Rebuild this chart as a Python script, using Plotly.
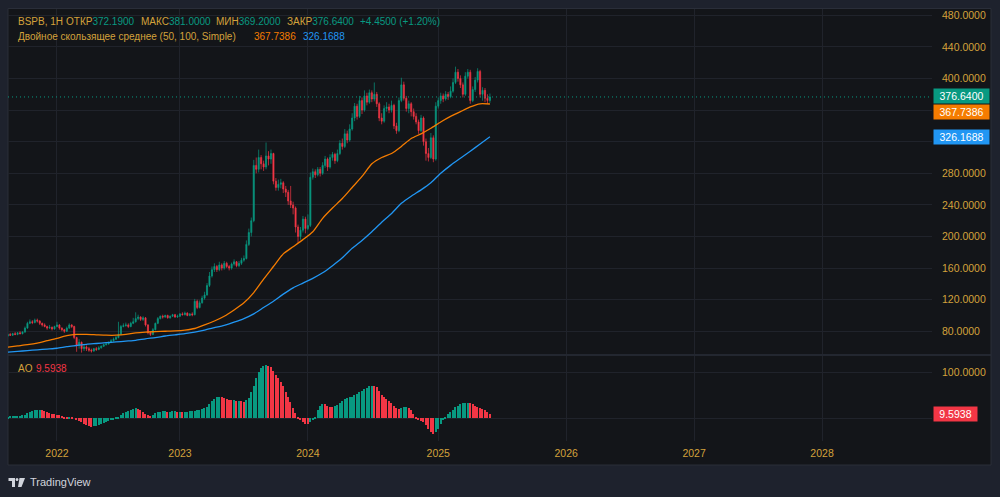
import plotly.graph_objects as go
import pandas as pd

# ---------------- data (weekly bars) ----------------
# trading weeks; the exchange was closed for two weeks in March 2022
first_week = "2021-08-16"
last_week = "2025-06-02"
closed_weeks = ["2022-03-07", "2022-03-14"]

opens = [
    74, 76, 75, 77, 76, 78, 77, 79, 84, 90,
    92, 91, 94, 93, 90, 88, 86, 84, 85, 83,
    86, 88, 84, 82, 80, 84, 88, 86, 72, 62,
    66, 58, 60, 58, 56, 55, 58, 57, 59, 61,
    63, 64, 66, 68, 70, 72, 76, 86, 87, 88,
    86, 90, 92, 96, 98, 95, 97, 88, 78, 76,
    82, 90, 96, 99, 98, 100, 97, 99, 101, 98,
    99, 102, 101, 103, 100, 102, 101, 118, 110, 116,
    122, 126, 138, 150, 158, 162, 158, 164, 160, 166,
    162, 160, 165, 168, 163, 166, 170, 172, 190, 205,
    220, 290, 285, 300, 292, 288, 302, 298, 305, 270,
    262, 266, 268, 260, 256, 245, 240, 236, 212, 200,
    208, 222, 210, 214, 275, 282, 278, 285, 280, 290,
    298, 288, 300, 304, 296, 305, 318, 314, 330, 322,
    336, 350, 365, 352, 372, 360, 378, 370, 382, 374,
    380, 368, 350, 346, 362, 364, 360, 366, 340, 334,
    372, 392, 375, 362, 368, 358, 352, 345, 334, 350,
    320, 305, 300, 325, 298, 365, 372, 378, 374, 380,
    377, 384, 395, 408, 400, 392, 380, 403, 408, 372,
    386, 398, 409, 380, 385, 375, 372.19,
]
highs = [
    77, 78, 78, 79, 79, 80, 80, 86, 92, 95,
    94, 96, 96, 94, 91, 90, 87, 88, 86, 87,
    92, 89, 85, 83, 86, 90, 89, 87, 73, 70,
    67, 63, 62, 60, 58, 59, 60, 61, 62, 64,
    66, 67, 70, 72, 74, 92, 88, 90, 91, 90,
    92, 97, 104, 101, 99, 99, 98, 89, 80, 84,
    91, 98, 100, 101, 101, 101, 100, 102, 102, 101,
    103, 104, 105, 104, 103, 104, 121, 120, 119, 125,
    130, 141, 155, 162, 166, 164, 168, 166, 169, 168,
    164, 167, 171, 169, 169, 173, 176, 195, 210, 224,
    297, 300, 310, 303, 296, 319, 308, 310, 306, 274,
    272, 273, 270, 264, 259, 264, 244, 238, 215, 212,
    226, 225, 228, 281, 286, 285, 288, 288, 294, 302,
    300, 304, 307, 306, 310, 322, 324, 336, 334, 342,
    356, 369, 368, 378, 376, 385, 382, 386, 385, 395,
    383, 370, 356, 366, 370, 368, 372, 368, 344, 376,
    401, 396, 378, 372, 370, 362, 356, 348, 354, 352,
    324, 312, 331, 328, 370, 376, 382, 381, 384, 383,
    390, 400, 415, 412, 404, 395, 408, 412, 411, 390,
    402, 413, 411, 389, 388, 380, 381,
]
lows = [
    73, 74, 74, 75, 75, 76, 76, 78, 83, 89,
    89, 90, 91, 88, 86, 85, 82, 83, 81, 82,
    85, 82, 80, 78, 79, 83, 84, 70, 54, 58,
    53, 55, 55, 54, 53, 54, 55, 56, 58, 60,
    62, 63, 65, 67, 69, 71, 75, 85, 86, 84,
    85, 89, 91, 94, 93, 93, 86, 76, 74, 75,
    81, 89, 95, 96, 97, 96, 96, 98, 97, 97,
    98, 100, 100, 99, 99, 99, 100, 108, 109, 115,
    120, 125, 136, 148, 155, 155, 156, 157, 158, 160,
    157, 158, 163, 161, 161, 164, 168, 171, 188, 200,
    218, 280, 281, 285, 283, 285, 290, 292, 266, 258,
    258, 261, 255, 250, 240, 236, 228, 205, 192, 196,
    205, 204, 208, 212, 272, 274, 276, 276, 278, 287,
    283, 286, 296, 292, 294, 303, 310, 312, 318, 320,
    334, 346, 348, 350, 355, 358, 366, 368, 370, 371,
    364, 346, 342, 344, 358, 356, 357, 336, 330, 332,
    370, 372, 358, 356, 352, 348, 342, 330, 332, 315,
    296, 295, 298, 294, 296, 362, 368, 370, 372, 373,
    375, 382, 393, 396, 388, 376, 378, 400, 368, 370,
    383, 395, 376, 372, 370, 368, 369.2,
]
closes = [
    76, 75, 77, 76, 78, 77, 79, 84, 90, 92,
    91, 94, 93, 90, 88, 86, 84, 85, 83, 86,
    88, 84, 82, 80, 84, 88, 86, 72, 62, 66,
    58, 60, 58, 56, 55, 58, 57, 59, 61, 63,
    64, 66, 68, 70, 72, 76, 86, 87, 88, 86,
    90, 92, 96, 98, 95, 97, 88, 78, 76, 82,
    90, 96, 99, 98, 100, 97, 99, 101, 98, 99,
    102, 101, 103, 100, 102, 101, 118, 110, 116, 122,
    126, 138, 150, 158, 162, 158, 164, 160, 166, 162,
    160, 165, 168, 163, 166, 170, 172, 190, 205, 220,
    290, 285, 300, 292, 288, 302, 298, 305, 270, 262,
    266, 268, 260, 256, 245, 240, 236, 212, 200, 208,
    222, 210, 214, 275, 282, 278, 285, 280, 290, 298,
    288, 300, 304, 296, 305, 318, 314, 330, 322, 336,
    350, 365, 352, 372, 360, 378, 370, 382, 374, 380,
    368, 350, 346, 362, 364, 360, 366, 340, 334, 372,
    392, 375, 362, 368, 358, 352, 345, 334, 350, 320,
    305, 300, 325, 298, 365, 372, 378, 374, 380, 377,
    384, 395, 408, 400, 392, 380, 403, 408, 372, 386,
    398, 409, 380, 385, 375, 372.19, 376.64,
]

# moving averages, sampled every 4th bar
ma50 = [
    60, 61.5, 63, 65, 68, 71, 74.5, 76, 76, 75.5,
    75, 75, 76, 78, 79, 79.5, 80, 80.5, 81.5, 83.5,
    88, 93, 99, 107, 116, 129, 146, 162, 178, 187,
    196, 206, 223, 236, 248, 262, 276, 292, 300, 305,
    314, 324, 330, 337, 345, 352, 358, 364, 368, 367.7386,
]
ma100 = [
    53.5, 54.5, 55.5, 56.5, 57.5, 58.5, 60.5, 62, 63.5, 64.5,
    65.5, 66.5, 67.5, 68.5, 70.5, 72, 74, 75.5, 77, 79,
    81.5, 84.5, 87.5, 91.5, 96, 102, 110, 118, 127, 135,
    141, 147, 154, 163, 173, 185, 195, 206, 218, 229,
    242, 251, 259, 268, 280, 290, 299, 308, 317, 326.1688,
]

ao = [
    4, 5, 5, 6, 6, 6, 7, 8, 11, 14,
    16, 18, 19, 19, 18, 16, 14, 12, 10, 9,
    8, 7, 6, 4, 3, 3, 2, 0, -2, -5,
    -9, -12, -15, -17, -18, -17, -16, -14, -12, -10,
    -8, -6, -4, -2, 1, 4, 8, 12, 15, 17,
    19, 21, 22, 21, 18, 14, 10, 7, 6, 8,
    12, 14, 15, 16, 16, 15, 15, 16, 16, 15,
    15, 14, 14, 15, 16, 16, 17, 18, 19, 20,
    22, 26, 32, 38, 43, 47, 48, 47, 45, 43,
    41, 40, 40, 39, 39, 38, 37, 40, 45, 58,
    72, 88, 102, 110, 115, 117, 115, 112, 104, 96,
    88, 80, 70, 59, 47, 35, 22, 12, 3, -4,
    -9, -12, -13, -8, -2, 4, 18, 28, 32, 31,
    28, 26, 25, 27, 30, 34, 38, 42, 44, 46,
    48, 51, 54, 58, 61, 64, 67, 70, 72, 71,
    68, 60, 52, 46, 42, 38, 34, 28, 22, 20,
    23, 24, 24, 22, 18, 10, 4, -3, -5, -9,
    -15, -24, -31, -35, -31, -24, -13, -3, 3, 9,
    14, 19, 25, 27, 32, 34, 34.5, 34.8, 34, 31,
    28, 25, 22, 21, 19, 13, 9.5938,
]

price_ticks = [80, 120, 160, 200, 240, 280, 320, 360, 400, 440, 480]
# labels hidden behind the value boxes on the right scale
hidden_ticks = [320, 360]
years = [2022, 2023, 2024, 2025, 2026, 2027, 2028]

# ---------------- style ----------------
GREEN = "#089981"
RED = "#f23645"
ORANGE = "#f57c00"
BLUE = "#2196f3"
GOLD = "#d3a23b"
FRAME = "#1e222d"
PANEL = "#131519"
GRID = "#20232b"
FONT = "Liberation Sans"

W, H = 1000, 497
ML, MR, MT, MB = 8, 68, 9, 56
PW, PH = W - ML - MR, H - MT - MB


def px(x):
    return (x - ML) / PW


def py(y):
    return (H - MB - y) / PH


# bar-index time scale (TradingView spaces bars evenly)
all_weeks = pd.date_range(first_week, last_week, freq="7D")
dates = all_weeks[~all_weeks.isin(pd.to_datetime(closed_weeks))]
bar_x = list(range(len(dates)))
ma_x = bar_x[::4]

future = pd.date_range(dates[-1], periods=200, freq="7D")[1:]
timeline = list(dates) + list(future)
year_pos = []
for yv in years:
    year_pos.append(next(k for k, d in enumerate(timeline) if d.year == yv))

x_range = [0.1, 375.7]

ao_colors = [GREEN]
for k in range(1, len(ao)):
    ao_colors.append(GREEN if ao[k] >= ao[k - 1] else RED)

fig = go.Figure()
fig.add_trace(go.Candlestick(
    x=bar_x, open=opens, high=highs, low=lows, close=closes,
    increasing=dict(line=dict(color=GREEN, width=0.7), fillcolor=GREEN),
    decreasing=dict(line=dict(color=RED, width=0.7), fillcolor=RED),
    whiskerwidth=0, hoverinfo="skip", showlegend=False,
    xaxis="x", yaxis="y",
))
fig.add_trace(go.Scatter(x=ma_x, y=ma50, mode="lines",
                         line=dict(color=ORANGE, width=1.3, shape="spline", smoothing=0.6),
                         hoverinfo="skip", showlegend=False, xaxis="x", yaxis="y"))
fig.add_trace(go.Scatter(x=ma_x, y=ma100, mode="lines",
                         line=dict(color=BLUE, width=1.3, shape="spline", smoothing=0.6),
                         hoverinfo="skip", showlegend=False, xaxis="x", yaxis="y"))
fig.add_trace(go.Bar(x=bar_x, y=ao, marker=dict(color=ao_colors, line=dict(width=0)),
                     width=0.55, hoverinfo="skip", showlegend=False,
                     xaxis="x2", yaxis="y2"))

axis_font = dict(family=FONT, size=10.5, color=GOLD)

fig.update_layout(
    width=W, height=H, autosize=False,
    margin=dict(l=ML, r=MR, t=MT, b=MB, pad=0),
    paper_bgcolor=FRAME, plot_bgcolor=PANEL,
    boxgap=0.35, bargap=0,
    xaxis=dict(domain=[0, 1], anchor="y", type="linear", range=x_range,
               tickvals=year_pos, showticklabels=False, showgrid=True,
               gridcolor=GRID, gridwidth=1, zeroline=False, showline=False,
               rangeslider=dict(visible=False)),
    xaxis2=dict(domain=[0, 1], anchor="y2", type="linear", range=x_range,
                matches="x", tickvals=year_pos, ticktext=[str(yv) for yv in years],
                tickfont=dict(family=FONT, size=10.5, color=GOLD),
                ticks="", ticklabelstandoff=4,
                showgrid=True, gridcolor=GRID, gridwidth=1,
                zeroline=False, showline=False),
    yaxis=dict(domain=[0.201, 1], anchor="x", side="right", range=[51, 488],
               tickvals=price_ticks,
               ticktext=["" if v in hidden_ticks else f"{v:.4f}" for v in price_ticks],
               tickfont=axis_font, ticks="", ticklabelstandoff=9,
               showgrid=True, gridcolor=GRID, gridwidth=1,
               zeroline=False, showline=False),
    yaxis2=dict(domain=[0, 0.197], anchor="x2", side="right", range=[-50, 137],
                tickvals=[0, 100], ticktext=["", "100.0000"],
                tickfont=axis_font, ticks="", ticklabelstandoff=9,
                showgrid=True, gridcolor=GRID, gridwidth=1,
                zeroline=False, showline=False),
)

shapes = [
    # inner panel
    dict(type="rect", xref="paper", yref="paper", x0=px(8), x1=px(991), y0=py(465), y1=py(8.5),
         fillcolor=PANEL, line=dict(color="#2a2e39", width=1), layer="below"),
    # pane separator
    dict(type="line", xref="paper", yref="paper", x0=px(8), x1=px(991), y0=py(355), y1=py(355),
         line=dict(color="#2a2e39", width=1.5)),
    # last price dotted line
    dict(type="line", xref="paper", yref="y", x0=0, x1=1, y0=closes[-1], y1=closes[-1],
         line=dict(color=GREEN, width=1, dash="1px,3px")),
    # TradingView logo
    dict(type="path", xref="paper", yref="paper",
         path=(f"M {px(8.5)},{py(478)} L {px(15)},{py(478)} L {px(15)},{py(487)} L {px(12)},{py(487)} "
               f"L {px(12)},{py(481)} L {px(8.5)},{py(481)} Z"),
         fillcolor="#d1d4dc", line=dict(width=0)),
    dict(type="circle", xref="paper", yref="paper", x0=px(15.6), x1=px(18.4), y0=py(481), y1=py(478),
         fillcolor="#d1d4dc", line=dict(width=0)),
    dict(type="path", xref="paper", yref="paper",
         path=(f"M {px(19.5)},{py(478)} L {px(25)},{py(478)} L {px(21.5)},{py(487)} L {px(18)},{py(487)} Z"),
         fillcolor="#d1d4dc", line=dict(width=0)),
]
fig.update_layout(shapes=shapes)

ann = []


def txt(x, y, s, color=GOLD, size=10):
    ann.append(dict(xref="paper", yref="paper", x=px(x), y=py(y), text=s, showarrow=False,
                    xanchor="left", yanchor="middle",
                    font=dict(family=FONT, size=size, color=color)))


def span(s, c):
    return f"<span style='color:{c}'>{s}</span>"


txt(16, 22, "BSPB, 1H")
txt(64, 22, "ОТКР" + span("372.1900", GREEN))
txt(139, 22, "МАКС" + span("381.0000", GREEN))
txt(214, 22, "МИН" + span("369.2000", GREEN))
txt(285, 22, "ЗАКР" + span("376.6400", GREEN))
txt(358, 22, "+4.4500 (+1.20%)", GREEN)
txt(16, 36, "Двойное скользящее среднее (50, 100, Simple)")
txt(252, 36, f"{ma50[-1]:.4f}", ORANGE)
txt(301, 36, f"{ma100[-1]:.4f}", BLUE)
txt(16, 368, "AO")
txt(34, 368, f"{ao[-1]:.4f}", RED)
txt(28, 482, "TradingView", "#d1d4dc", 11)


def price_box(val, color, yref, yshift=0, w=51):
    ann.append(dict(xref="paper", yref=yref, x=px(933), y=val, text=f"{val:.4f}",
                    showarrow=False, xanchor="left", yanchor="middle", yshift=yshift,
                    width=w, height=10, align="center", bgcolor=color, borderpad=2,
                    font=dict(family=FONT, size=10.5, color="#ffffff")))


price_box(closes[-1], GREEN, "y", yshift=0.5)
price_box(ma50[-1], ORANGE, "y", yshift=-8)
price_box(ma100[-1], BLUE, "y")
price_box(ao[-1], RED, "y2", w=39)

fig.update_layout(annotations=ann)

fig.write_html("out.html", config={"displayModeBar": False},
               post_script="document.body.style.margin='0';document.body.style.overflow='hidden';")
